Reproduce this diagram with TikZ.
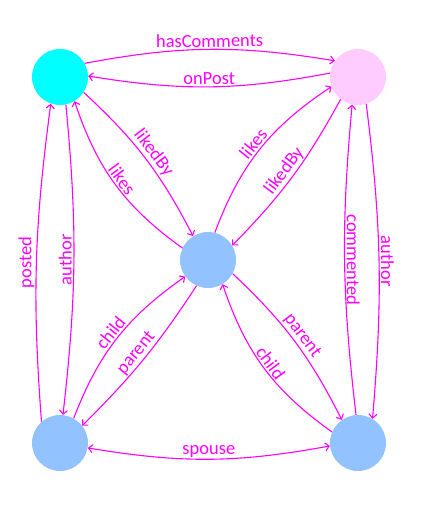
\documentclass[tikz,border=0pt]{standalone}
\usepackage{fontspec}
\setmainfont{Carlito}
\usetikzlibrary{arrows.meta,bending}
\definecolor{edgec}{HTML}{FF00FF}
\definecolor{cyanc}{HTML}{00FFFF}
\definecolor{pinkc}{HTML}{FFCCFF}
\definecolor{bluec}{HTML}{92C2FF}
\begin{document}
\begin{tikzpicture}[x=1bp,y=1bp,
  vertex/.style={circle, minimum size=56bp, inner sep=0pt, draw=none},
  rel/.style={draw=edgec, line width=1.1bp, -{Straight Barb[length=4bp,width=8bp]}},
  both/.style={draw=edgec, line width=1.1bp, {Straight Barb[length=4bp,width=8bp]}-{Straight Barb[length=4bp,width=8bp]}},
  lbl/.style={text=edgec, font=\fontsize{18.5bp}{22bp}\selectfont, inner sep=1.5bp}
]
\useasboundingbox (0,0) rectangle (423,512);
\node[vertex, fill=cyanc] (tl) at (60,435) {};
\node[vertex, fill=pinkc] (tr) at (358,435) {};
\node[vertex, fill=bluec] (c) at (208,252) {};
\node[vertex, fill=bluec] (bl) at (60,69) {};
\node[vertex, fill=bluec] (br) at (358,69) {};

% top pair
\draw[rel] (tl.29) to[bend left=10] node[lbl, midway, sloped, above] {hasComments} (tr.145);
\draw[rel] (tr.172) to[bend left=10] node[lbl, midway, sloped, above] {onPost} (tl.2);

% top-left / center
\draw[rel] (tl.-33) to[bend left=10] node[lbl, midway, sloped, above] {likedBy} (c.122);
\draw[rel] (c.155) to[bend left=18] node[lbl, midway, sloped, above] {likes} (tl.-59);

% top-right / center
\draw[rel] (c.76) to[bend left=18] node[lbl, midway, sloped, above] {likes} (tr.200);
\draw[rel] (tr.232) to[bend left=8] node[lbl, midway, sloped, above] {likedBy} (c.31);

% left verticals
\draw[rel] (tl.-78) to[bend left=6] node[lbl, midway, rotate=90, anchor=south] {author} (bl.84);
\draw[rel] (bl.131) to[bend left=6] node[lbl, midway, rotate=90, anchor=south] {posted} (tl.251);

% right verticals
\draw[rel] (tr.-73) to[bend left=6] node[lbl, midway, rotate=-90, anchor=south] {author} (br.59);
\draw[rel] (br.94) to[bend left=6] node[lbl, midway, rotate=-90, anchor=south] {commented} (tr.258);

% bottom-left / center
\draw[rel] (bl.61) to[bend left=17] node[lbl, midway, sloped, above] {child} (c.216);
\draw[rel] (c.246) to[bend left=6] node[lbl, midway, sloped, above] {parent} (bl.38);

% bottom-right / center
\draw[rel] (c.-29) to[bend left=10] node[lbl, midway, sloped, above] {parent} (br.125);
\draw[rel] (br.157) to[bend left=18] node[lbl, midway, sloped, above] {child} (c.-59);

% spouse
\draw[both] (bl.-10) to[bend right=10] node[lbl, midway, sloped, above] {spouse} (br.186);
\end{tikzpicture}
\end{document}
